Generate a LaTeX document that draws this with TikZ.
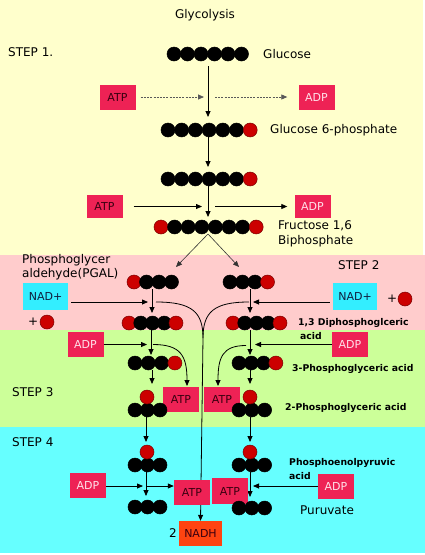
\documentclass[tikz,border=0pt]{standalone}
\usepackage{fontspec}
\setmainfont{DejaVu Sans}
\usetikzlibrary{arrows.meta}
\definecolor{bgyellow}{HTML}{FFFFCC}
\definecolor{bgpink}{HTML}{FFCCCC}
\definecolor{bggreen}{HTML}{CCFF99}
\definecolor{bgcyan}{HTML}{66FFFF}
\definecolor{boxred}{HTML}{EE2255}
\definecolor{boxcyan}{HTML}{33EEFF}
\definecolor{nadhcol}{HTML}{FF4411}
\definecolor{ballred}{HTML}{CC0000}
\definecolor{darktext}{HTML}{3A0010}
\definecolor{lighttext}{HTML}{FFE0E8}
\definecolor{navytext}{HTML}{102040}
\tikzset{
  arr/.style={line width=0.8pt, -{Triangle[length=6pt,width=5pt]}},
  dasharr/.style={arr, draw=black!65, dash pattern=on 2pt off 1.2pt},
  ball/.style={circle, inner sep=0pt, minimum size=14pt, line width=0.5pt},
  rbox/.style={fill=boxred, inner sep=0pt, minimum width=36pt, minimum height=25pt, font=\fontsize{11}{12}\selectfont},
  atpbox/.style={rbox, text=darktext},
  adpbox/.style={rbox, text=lighttext},
  nadbox/.style={fill=boxcyan, inner sep=0pt, minimum width=45pt, minimum height=27pt, text=navytext, font=\fontsize{11}{12}\selectfont},
  nadhbox/.style={fill=nadhcol, inner sep=0pt, minimum width=43pt, minimum height=25pt, text=darktext, font=\fontsize{11}{12}\selectfont},
  lbl/.style={anchor=west, inner sep=0pt, font=\fontsize{12}{14}\selectfont},
  slbl/.style={anchor=west, inner sep=0pt, font=\bfseries\fontsize{9.3}{11}\selectfont},
}
\newcommand\chainrow[5]{%
  \foreach \col [count=\i] in {#5} {\node[ball, fill=\col, draw=\col!60!black] (#1-\i) at ({#2+(\i-1)*#4},#3) {};}}
\begin{document}
\begin{tikzpicture}[x=1pt,y=-1pt]
\useasboundingbox (0,0) rectangle (425,555);
% bands
\fill[white] (0,0) rectangle (425,555);
\fill[bgyellow] (0,0) rectangle (423,255);
\fill[bgpink] (0,255) rectangle (425,330);
\fill[bggreen] (0,330) rectangle (425,427);
\fill[bgcyan] (0,427) rectangle (425,553);

% boxes (nodes defined first, drawn on top later via layering order)
\node[atpbox] (atp1) at (117.5,97) {ATP};
\node[adpbox] (adp1) at (316.5,97) {ADP};
\node[atpbox, minimum height=23pt] (atp2) at (104.5,206.5) {ATP};
\node[adpbox, minimum height=23pt] (adp2) at (312.5,206.5) {ADP};
\node[nadbox] (nadL) at (45.5,296.5) {NAD+};
\node[nadbox, minimum width=44pt] (nadR) at (355,296.5) {NAD+};
\node[adpbox] (adp3L) at (85.5,344.5) {ADP};
\node[adpbox] (adp3R) at (350,344.5) {ADP};
\node[adpbox] (adp4L) at (88,485.5) {ADP};
\node[adpbox] (adp4R) at (336,486.5) {ADP};
\node[nadhbox] (nadh) at (200.5,533.5) {NADH};

% coordinates
\coordinate (s1a) at (208,66);   \coordinate (s1b) at (208,117);
\coordinate (j1) at (204,97);    \coordinate (k1) at (215,97);
\coordinate (s2a) at (208,137);  \coordinate (s2b) at (208,167);
\coordinate (j2) at (202,206.5); \coordinate (k2) at (215,206.5);
\coordinate (s3a) at (208,186);  \coordinate (s3b) at (208,217);
\coordinate (sp) at (208,234);
\coordinate (spL) at (176,267);  \coordinate (spR) at (239,267);
\coordinate (nlt) at (148,302);  \coordinate (nrt) at (253,302);
\coordinate (cLs) at (156,302);  \coordinate (cRs) at (249,302);
\coordinate (cm) at (203,338);
\coordinate (a3L) at (147,344.5); \coordinate (a3R) at (255,344.5);
\coordinate (a4) at (146,486);    \coordinate (a4R) at (253,486);

% step 1 / 2 connectors
\draw[arr] (s1a) -- (s1b);
\draw[dasharr, shorten <=5pt] (atp1.east) -- (j1);
\draw[dasharr, shorten >=11pt] (k1) -- (adp1.west);
\draw[arr] (s2a) -- (s2b);
\draw[arr, shorten <=11pt] (atp2.east) -- (j2);
\draw[arr, shorten >=7pt] (k2) -- (adp2.west);
\draw[arr] (s3a) -- (s3b);
\draw[arr, line width=0.6pt, draw=black!80] (sp) -- (spL);
\draw[arr, line width=0.6pt, draw=black!80] (sp) -- (spR);

% step 2
\draw[arr] (152,289) -- (152,313);
\draw[arr] (250,289) -- (250,313);
\draw[arr, shorten <=3pt] (nadL.east |- nlt) -- (nlt);
\draw[arr, shorten <=3pt] (nadR.west |- nrt) -- (nrt);
\draw[line width=0.8pt] (cLs) .. controls (192,302) and (203,312) .. (cm);
\draw[line width=0.8pt] (cRs) .. controls (214,302) and (203,312) .. (cm);
\draw[arr] (cm) -- (nadh.north);

% step 3
\draw[arr] (151,330) -- (151,355);
\draw[arr] (250,330) -- (250,355);
\draw[arr] (adp3L.east) -- (a3L);
\draw[arr] (adp3R.west) -- (a3R);
\draw[arr] (153,344.5) .. controls (181,344.5) and (187,356) .. (187,386);
\draw[arr] (246,345.5) .. controls (222,345.5) and (218,358) .. (218,386);
\draw[arr] (152,370) -- (152,384);
\draw[arr] (250,370) -- (250,384);

% step 4
\draw[arr] (146,417) -- (146,442);
\draw[arr] (250,417) -- (250,442);
\draw[arr] (146,472) -- (146,496);
\draw[arr] (250,472) -- (250,497);
\draw[arr] (adp4L.east |- a4) -- (143,486);
\node[atpbox] (atp4L) at (192,492.5) {ATP};
\node[atpbox, minimum height=26pt] (atp4R) at (230,491) {ATP};
\draw[arr] (a4) -- (a4 -| atp4L.west);
\draw[arr] (adp4R.west |- a4R) -- (a4R);

% ATP boxes of step 3 (on top of lines)
\node[atpbox] (atp3L) at (181,399.5) {ATP};
\node[atpbox] (atp3R) at (222,399.5) {ATP};

% molecules
\chainrow{glu}{174}{54}{13.5}{black,black,black,black,black,black}
\chainrow{gsp}{168}{130}{13.7}{black,black,black,black,black,black,ballred}
\chainrow{gspb}{168}{179}{13.7}{black,black,black,black,black,black,ballred}
\chainrow{fbp}{161}{227}{13.6}{ballred,black,black,black,black,black,black,ballred}
\chainrow{pgalL}{134}{282}{12.5}{ballred,black,black,black}
\chainrow{pgalR}{230}{282}{12.5}{black,black,black,ballred}
\chainrow{dpgL}{129}{323}{11.75}{ballred,black,black,black,ballred}
\chainrow{dpgR}{233}{323}{11.75}{ballred,black,black,black,ballred}
\chainrow{tpgL}{135}{363}{13.3}{black,black,black,ballred}
\chainrow{tpgR}{239}{363}{12.3}{black,black,black,ballred}
\chainrow{twpgL}{135}{410}{12.5}{black,black,black}
\node[ball, fill=ballred, draw=ballred!60!black] (twpgLp) at (147,397) {};
\chainrow{twpgR}{239}{410}{12.8}{black,black,black}
\node[ball, fill=ballred, draw=ballred!60!black] (twpgRp) at (250,397) {};
\chainrow{pepL}{135}{465}{12.5}{black,black,black}
\node[ball, fill=ballred, draw=ballred!60!black] (pepLp) at (147,452) {};
\chainrow{pepR}{239}{465}{12.8}{black,black,black}
\node[ball, fill=ballred, draw=ballred!60!black] (pepRp) at (250,452) {};
\chainrow{pyrL}{135}{507}{12.5}{black,black,black}
\chainrow{pyrR}{239}{508}{12.8}{black,black,black}
% loose phosphates
\node[lbl] (plusL) at (28,322) {+};
\node[ball, fill=ballred, draw=ballred!60!black] (piL) at (47,322) {};
\node[lbl] (plusR) at (387,299) {+};
\node[ball, fill=ballred, draw=ballred!60!black] (piR) at (405,299) {};

% labels
\node[inner sep=0pt, font=\fontsize{12}{14}\selectfont] (title) at (205,15) {Glycolysis};
\node[lbl] (st1) at (8,52) {STEP 1.};
\node[lbl] (lglu) at (263,54) {Glucose};
\node[lbl] (lgsp) at (270,130) {Glucose 6-phosphate};
\node[lbl] (lfbp1) at (278,226) {Fructose 1,6};
\node[lbl] (lfbp2) at (278,241) {Biphosphate};
\node[lbl] (lpg1) at (22,260) {Phosphoglycer};
\node[lbl] (lpg2) at (22,274) {aldehyde(PGAL)};
\node[lbl] (st2) at (338,265) {STEP 2};
\node[slbl] (ldpg1) at (298,323) {1,3 Diphosphoglceric};
\node[slbl] (ldpg2) at (300,336) {acid};
\node[slbl] (ltpg) at (292,369) {3-Phosphoglyceric acid};
\node[slbl] (ltwpg) at (285,408) {2-Phosphoglyceric acid};
\node[lbl] (st3) at (12,392) {STEP 3};
\node[lbl] (st4) at (12,442) {STEP 4};
\node[slbl] (lpep1) at (289,463) {Phosphoenolpyruvic};
\node[slbl] (lpep2) at (289,476) {acid};
\node[lbl] (lpyr) at (300,510) {Puruvate};
\node[lbl, anchor=east] (two) at (177,533) {2};
\end{tikzpicture}
\end{document}
